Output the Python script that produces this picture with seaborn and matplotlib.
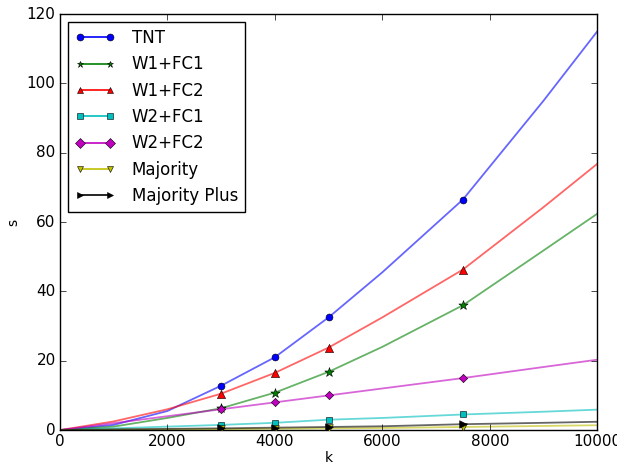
import numpy as np
import pandas as pd
import matplotlib
matplotlib.use("Agg")
import matplotlib.pyplot as plt
from matplotlib.lines import Line2D
import seaborn as sns

k_line = [0, 1000, 2000, 3000, 4000, 5000, 6000, 7500, 9000, 10000]
k_mark = [3000, 4000, 5000, 7500]

tnt = [0, 1.5, 5.5, 12.8, 21.0, 32.5, 45.5, 66.5, 95.0, 115.0]
w1_fc1 = [0, 1.0, 3.5, 6.3, 10.8, 16.8, 24.0, 36.0, 51.8, 62.4]
w1_fc2 = [0, 2.5, 6.0, 10.5, 16.5, 23.8, 32.5, 46.3, 64.3, 76.8]
w2_fc1 = [0, 0.5, 1.0, 1.5, 2.1, 3.0, 3.5, 4.5, 5.3, 5.9]
w2_fc2 = [0, 2.0, 4.0, 6.0, 8.0, 10.0, 12.0, 15.0, 18.2, 20.3]
majority = [0, 0.1, 0.2, 0.3, 0.4, 0.5, 0.6, 0.9, 1.2, 1.4]
majority_plus = [0, 0.2, 0.35, 0.5, 0.7, 0.9, 1.1, 1.7, 2.1, 2.4]

labels = ["TNT", "W1+FC1", "W1+FC2", "W2+FC1", "W2+FC2", "Majority", "Majority Plus"]
series = [tnt, w1_fc1, w1_fc2, w2_fc1, w2_fc2, majority, majority_plus]
colors = ["b", "g", "r", "c", "m", "y", "k"]
markers = ["o", "*", "^", "s", "D", "v", ">"]
sizes = [25, 50, 35, 20, 18, 30, 30]

plt.style.use("classic")
fig = plt.figure(figsize=(6.17, 4.68), dpi=100, facecolor="white")
ax = fig.add_axes([0.097, 0.081, 0.871, 0.889])

handles = []
for lab, vals, c, m, s in zip(labels, series, colors, markers, sizes):
    df = pd.DataFrame({"k": k_line, "s": vals})
    sns.lineplot(data=df, x="k", y="s", ax=ax, color=c, alpha=0.6, lw=1.3)
    dm = df[df["k"].isin(k_mark)]
    sns.scatterplot(data=dm, x="k", y="s", ax=ax, color=c, marker=m, s=s,
                    edgecolor="k", linewidth=0.4, zorder=3)
    handles.append(Line2D([], [], color=c, marker=m, markersize=5,
                          markeredgecolor="k", markeredgewidth=0.4, lw=1.2))

ax.set_xlim(0, 10000)
ax.set_ylim(0, 120)
ax.set_xticks(np.arange(0, 10001, 2000))
ax.set_yticks(np.arange(0, 121, 20))
ax.tick_params(labelsize=11, pad=3)
ax.set_xlabel("k", fontsize=10, labelpad=1)
ax.set_ylabel("s", fontsize=10)
ax.legend(handles, labels, loc="upper left", numpoints=2, fontsize=12,
          handlelength=2.4, handletextpad=1.0)

fig.savefig("out.png", dpi=100, facecolor="white")
